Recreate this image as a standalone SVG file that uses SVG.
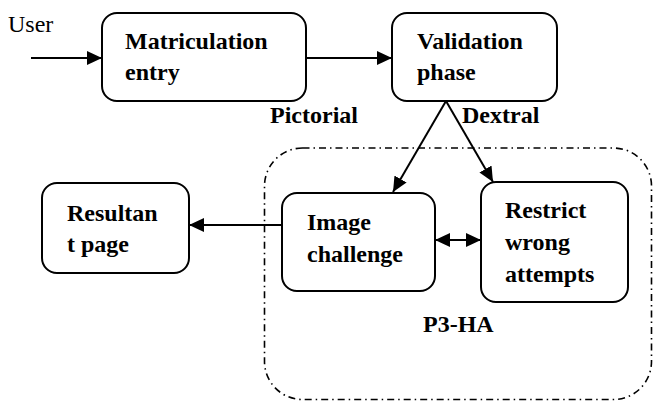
<svg xmlns="http://www.w3.org/2000/svg" width="653" height="401" viewBox="0 0 653 401">
<defs>
<marker id="ah" markerUnits="userSpaceOnUse" markerWidth="16" markerHeight="14" refX="15" refY="7" orient="auto-start-reverse">
<path d="M0,0 L15,7 L0,14 Z" fill="#000"/>
</marker>
</defs>
<rect width="653" height="401" fill="#fff"/>
<rect x="264.5" y="148" width="387" height="251.5" rx="38" ry="38" fill="none" stroke="#000" stroke-width="1.6" stroke-dasharray="7 4 1.5 4"/>
<g id="matriculation">
<rect x="102" y="13" width="204" height="88" rx="15" fill="#fff" stroke="#000" stroke-width="2"/>
<text x="125" y="49" style="font-family:'Liberation Serif',serif;font-weight:bold;font-size:24px">Matriculation</text>
<text x="125" y="80" style="font-family:'Liberation Serif',serif;font-weight:bold;font-size:24px">entry</text>
</g>
<g id="validation">
<rect x="392" y="13" width="165" height="88" rx="15" fill="#fff" stroke="#000" stroke-width="2"/>
<text x="417" y="49" style="font-family:'Liberation Serif',serif;font-weight:bold;font-size:24px">Validation</text>
<text x="417" y="80" style="font-family:'Liberation Serif',serif;font-weight:bold;font-size:24px">phase</text>
</g>
<text x="270" y="123" style="font-family:'Liberation Serif',serif;font-weight:bold;font-size:24px">Pictorial</text>
<text x="462" y="123" style="font-family:'Liberation Serif',serif;font-weight:bold;font-size:24px">Dextral</text>
<g id="resultant">
<rect x="42" y="183" width="147" height="90" rx="15" fill="#fff" stroke="#000" stroke-width="2"/>
<text x="67" y="221" style="font-family:'Liberation Serif',serif;font-weight:bold;font-size:24px">Resultan</text>
<text x="67" y="252" style="font-family:'Liberation Serif',serif;font-weight:bold;font-size:24px">t page</text>
</g>
<g id="image">
<rect x="282" y="193" width="153" height="98" rx="15" fill="#fff" stroke="#000" stroke-width="2"/>
<text x="307" y="230" style="font-family:'Liberation Serif',serif;font-weight:bold;font-size:24px">Image</text>
<text x="307" y="262" style="font-family:'Liberation Serif',serif;font-weight:bold;font-size:24px">challenge</text>
</g>
<g id="restrict">
<rect x="481" y="182" width="147" height="120" rx="15" fill="#fff" stroke="#000" stroke-width="2"/>
<text x="505" y="218" style="font-family:'Liberation Serif',serif;font-weight:bold;font-size:24px">Restrict</text>
<text x="505" y="250" style="font-family:'Liberation Serif',serif;font-weight:bold;font-size:24px">wrong</text>
<text x="505" y="282" style="font-family:'Liberation Serif',serif;font-weight:bold;font-size:24px">attempts</text>
</g>
<text x="423" y="332" style="font-family:'Liberation Serif',serif;font-weight:bold;font-size:24px">P3-HA</text>
<g id="connectors" stroke="#000" stroke-width="2" fill="none">
<line x1="31" y1="58" x2="102" y2="58" marker-end="url(#ah)"/>
<line x1="306" y1="58" x2="392" y2="58" marker-end="url(#ah)"/>
<line x1="446" y1="101" x2="393" y2="192" marker-end="url(#ah)"/>
<line x1="446" y1="101" x2="493" y2="182" marker-end="url(#ah)"/>
<line x1="282" y1="225" x2="189" y2="225" marker-end="url(#ah)"/>
<line x1="435" y1="240" x2="481" y2="240" marker-start="url(#ah)" marker-end="url(#ah)"/>
</g>
<text x="8" y="32" style="font-family:'Liberation Serif',serif;font-size:24px">User</text>
</svg>
